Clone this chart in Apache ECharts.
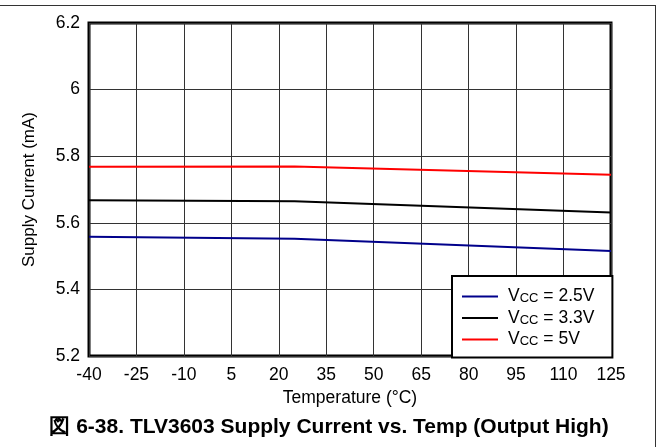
<!DOCTYPE html>
<html>
<head>
<meta charset="utf-8">
<script src="https://cdn.jsdelivr.net/npm/echarts@6/dist/echarts.min.js"></script>
<style>
html,body{margin:0;padding:0;background:#fff;}
#chart{width:658px;height:447px;}
</style>
</head>
<body>
<div id="chart"></div>
<script>
const temps = [-40, 25, 125];
const vcc25 = [5.558, 5.552, 5.515];
const vcc33 = [5.668, 5.665, 5.631];
const vcc5 = [5.768, 5.769, 5.744];
const seriesNames = ['VCC = 2.5V', 'VCC = 3.3V', 'VCC = 5V'];
const legendSuffix = [' = 2.5V', ' = 3.3V', ' = 5V'];
const seriesColors = ['#00008B', '#000000', '#FF0000'];
const xTicks = [-40, -25, -10, 5, 20, 35, 50, 65, 80, 95, 110, 125];
const yTicks = [5.2, 5.4, 5.6, 5.8, 6, 6.2];
const titleText = '図 6-38. TLV3603 Supply Current vs. Temp (Output High)';
const xName = 'Temperature (°C)';
const yName = 'Supply Current (mA)';

const allSeries = [vcc25, vcc33, vcc5];
const chart = echarts.init(document.getElementById('chart'), null, {renderer: 'canvas'});
const font = 'Liberation Sans, Arial, sans-serif';
chart.setOption({
  animation: false,
  textStyle: {fontFamily: font},
  title: {
    text: titleText, left: 'center', top: 412,
    textStyle: {fontFamily: font, fontSize: 21, fontWeight: 'bold', color: '#000'}
  },
  grid: {left: 89, right: 47, top: 23, bottom: 91, show: true, borderColor: '#000', borderWidth: 3, backgroundColor: 'transparent'},
  xAxis: {
    type: 'value', min: xTicks[0], max: xTicks[xTicks.length - 1], interval: 15,
    name: xName, nameLocation: 'middle', nameGap: 32,
    nameTextStyle: {fontFamily: font, fontSize: 17.5, color: '#000'},
    axisLine: {show: false}, axisTick: {show: false},
    axisLabel: {fontFamily: font, fontSize: 17.5, color: '#000', margin: 10},
    splitLine: {show: true, lineStyle: {color: '#333', width: 1}}
  },
  yAxis: {
    type: 'value', min: yTicks[0], max: yTicks[yTicks.length - 1], interval: 0.2,
    name: yName, nameLocation: 'middle', nameGap: 51, nameRotate: 90,
    nameTextStyle: {fontFamily: font, fontSize: 17, color: '#000'},
    axisLine: {show: false}, axisTick: {show: false},
    axisLabel: {fontFamily: font, fontSize: 17.5, color: '#000', margin: 9,
      formatter: v => String(parseFloat(v.toFixed(1)))},
    splitLine: {show: true, lineStyle: {color: '#333', width: 1}}
  },
  legend: {
    left: 452, top: 276, orient: 'vertical',
    backgroundColor: '#fff', borderColor: '#000', borderWidth: 2,
    padding: [11, 18, 9, 10],
    icon: 'rect',
    itemWidth: 36, itemHeight: 2, itemGap: 3,
    z: 10,
    data: seriesNames,
    formatter: name => '{n|V}{sub|CC}{n|' + legendSuffix[seriesNames.indexOf(name)] + '}',
    textStyle: {
      fontFamily: font, color: '#000', padding: [0, 0, 0, 5],
      rich: {
        n: {fontFamily: font, fontSize: 17.5, color: '#000', lineHeight: 17},
        sub: {fontFamily: font, fontSize: 13, color: '#000', lineHeight: 13, verticalAlign: 'bottom', padding: [5, 0, 0, 0]}
      }
    }
  },
  series: allSeries.map((vals, i) => ({
    name: seriesNames[i], type: 'line', symbol: 'none',
    data: temps.map((t, j) => [t, vals[j]]),
    lineStyle: {color: seriesColors[i], width: 2},
    itemStyle: {color: seriesColors[i]},
    z: 3
  })),
  graphic: [
    {type: 'line', shape: {x1: 0, y1: 5.5, x2: 656, y2: 5.5}, style: {stroke: '#333', lineWidth: 1}},
    {type: 'line', shape: {x1: 655.5, y1: 5, x2: 655.5, y2: 447}, style: {stroke: '#333', lineWidth: 1}}
  ]
});
</script>
</body>
</html>
